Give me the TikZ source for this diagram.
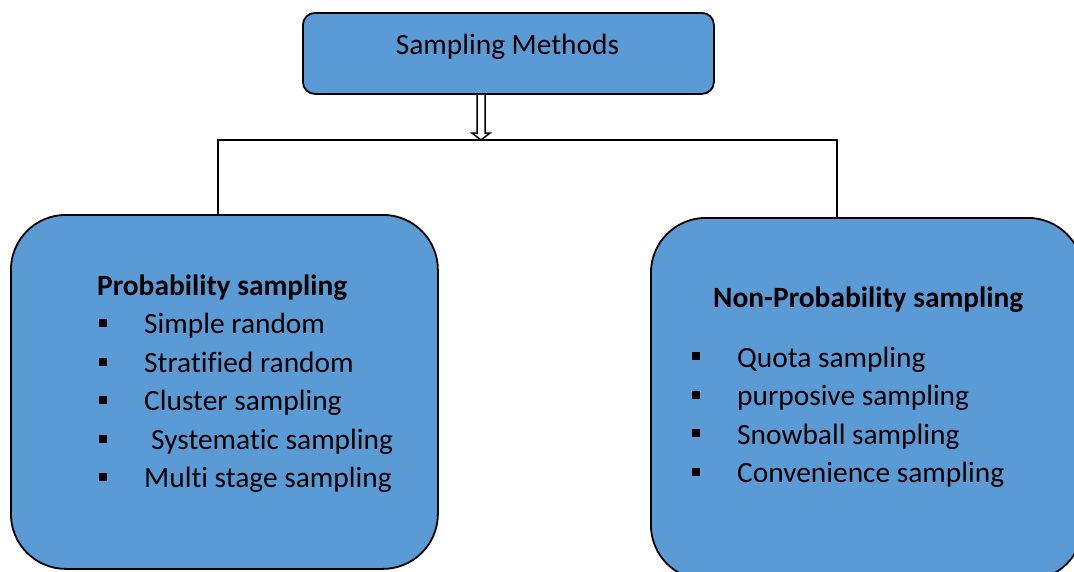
\documentclass[tikz,border=0pt]{standalone}
\usepackage{fontspec}
\setmainfont{Carlito}[Ligatures=NoCommon]
\definecolor{boxblue}{HTML}{5B9BD5}
\begin{document}
\begin{tikzpicture}[x=1pt,y=-1pt,
  bluebox/.style={draw=black, line width=1.8pt, fill=boxblue, inner sep=0pt},
  txt/.style={anchor=base west, inner sep=0pt, font=\fontsize{29.4}{35}\selectfont},
  bold/.style={txt, font=\fontsize{29.4}{35}\selectfont\bfseries},
  bul/.style={fill=black, inner sep=0pt, minimum size=8pt},
  conn/.style={draw=black, line width=1.5pt}]
\useasboundingbox (0,0) rectangle (1074,571);
\clip (0,0) rectangle (1074,571);
% boxes
\node[bluebox, rounded corners=12pt, minimum width=411pt, minimum height=81pt, anchor=north west] (top) at (302,12) {};
\node[anchor=base, inner sep=0pt, font=\fontsize{29.4}{35}\selectfont] (toptxt) at (507.5,54) {Sampling Methods};
\node[bluebox, rounded corners=55pt, minimum width=427pt, minimum height=354pt, anchor=north west] (L) at (10,214) {};
\node[bluebox, rounded corners=55pt, minimum width=432pt, minimum height=362pt, anchor=north west] (R) at (650,217) {};
% connectors
\coordinate (j) at (481,140);
\coordinate (lj) at (218,140);
\coordinate (rj) at (837,140);
\draw[conn] (L.north -| lj) -- (lj) -- (rj) -- (R.north -| rj);
\draw[draw=black, line width=1.5pt, fill=white, line join=miter]
  (top.south -| 477,0) -- (477,133) -- (472,133) -- (j) -- (490,133) -- (485,133) -- (top.south -| 485,0);
% left texts
\node[bold] (ph) at (97,295) {Probability sampling};
\node[txt] (p1) at (144,333.5) {Simple random};
\node[txt] (p2) at (144,372) {Stratified random};
\node[txt] (p3) at (144,410.5) {Cluster sampling};
\node[txt] (p4) at (151,449) {Systematic sampling};
\node[txt] (p5) at (144,487.5) {Multi stage sampling};
\foreach \y [count=\i] in {333.5,372,410.5,449,487.5} {
  \node[bul] (pb\i) at (103,\y-10.5) {};
}
% right texts
\node[bold] (nh) at (713,307) {Non-Probability sampling};
\node[txt] (n1) at (737,367) {Quota sampling};
\node[txt] (n2) at (737,405.5) {purposive sampling};
\node[txt] (n3) at (737,444) {Snowball sampling};
\node[txt] (n4) at (737,482.5) {Convenience sampling};
\foreach \y [count=\i] in {367,405.5,444,482.5} {
  \node[bul] (nb\i) at (696,\y-11) {};
}
\end{tikzpicture}
\end{document}
